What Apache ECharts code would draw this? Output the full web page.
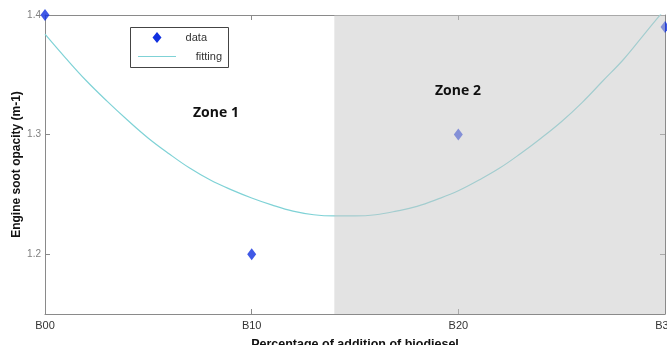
<!DOCTYPE html>
<html>
<head>
<meta charset="utf-8">
<script src="https://cdn.jsdelivr.net/npm/echarts@6/dist/echarts.min.js"></script>
<style>
html,body{margin:0;padding:0;background:#fff;}
#chart{width:667px;height:345px;}
</style>
</head>
<body>
<div id="chart"></div>
<script>
// ---- data ----
const xTickValues = [0, 10, 20, 30];
const xTickLabels = ['B00', 'B10', 'B20', 'B30'];
const yTickValues = [1.2, 1.3, 1.4];
const dataX = [0, 10, 20, 30];
const dataY = [1.40, 1.20, 1.30, 1.39];
const fitX = [0, 1, 2, 3, 4, 5, 6, 7, 8, 9, 10, 11, 12, 13, 14, 15, 16, 17, 18, 19, 20, 21, 22, 23, 24, 25, 26, 27, 28, 29, 30];
const fitY = [1.384, 1.364, 1.345, 1.328, 1.312, 1.297, 1.284, 1.272, 1.262, 1.254, 1.247, 1.241, 1.236, 1.233, 1.232, 1.232, 1.233, 1.236, 1.240, 1.246, 1.253, 1.262, 1.272, 1.284, 1.297, 1.311, 1.327, 1.345, 1.363, 1.384, 1.405];
const zone2Range = [14, 30];
const zoneLabels = ['Zone 1', 'Zone 2'];
const legendLabels = ['data', 'fitting'];

const chart = echarts.init(document.getElementById('chart'), null, {renderer: 'canvas'});
const axisGray = '#8a8a8a';
const dataColor = '#1030e0';
const fitColor = '#7fd2d6';
const xMin = 0, xMax = 30, yMin = 1.15, yMax = 1.4;

chart.setOption({
  animation: false,
  backgroundColor: '#ffffff',
  grid: {left: 45, right: 2, top: 15, bottom: 31, containLabel: false, outerBoundsMode: 'none'},
  xAxis: [{
    type: 'value', min: xMin, max: xMax, interval: 10,
    name: 'Percentage of addition of biodiesel', nameLocation: 'middle', nameGap: 24, nameMoveOverlap: false,
    nameTextStyle: {fontFamily: 'Liberation Sans, Arial', fontWeight: 'bold', fontSize: 12.5, color: '#111'},
    axisLine: {show: true, onZero: false, lineStyle: {color: axisGray}},
    axisTick: {show: true, inside: true, length: 5, lineStyle: {color: axisGray}},
    axisLabel: {fontFamily: 'Liberation Sans, Arial', fontSize: 11, color: '#333', margin: 6,
      formatter: v => xTickLabels[xTickValues.indexOf(v)] || ''},
    splitLine: {show: false}
  }, {
    type: 'value', min: xMin, max: xMax, interval: 10, position: 'top',
    axisLine: {show: true, onZero: false, lineStyle: {color: axisGray}},
    axisTick: {show: true, inside: true, length: 5, lineStyle: {color: axisGray}},
    axisLabel: {show: false}, splitLine: {show: false}
  }],
  yAxis: [{
    type: 'value', min: yMin, max: yMax,
    name: 'Engine soot opacity (m-1)', nameLocation: 'middle', nameGap: 22, nameRotate: 90, nameMoveOverlap: false,
    nameTextStyle: {fontFamily: 'Liberation Sans, Arial', fontWeight: 'bold', fontSize: 12, color: '#111'},
    axisLine: {show: true, onZero: false, lineStyle: {color: axisGray}},
    axisTick: {show: true, inside: true, length: 5, lineStyle: {color: axisGray}, customValues: yTickValues},
    axisLabel: {fontFamily: 'Liberation Sans, Arial', fontSize: 10, color: '#808080', margin: 4,
      customValues: yTickValues, formatter: v => v.toFixed(1)},
    splitLine: {show: false}
  }, {
    type: 'value', min: yMin, max: yMax, position: 'right',
    axisLine: {show: true, onZero: false, lineStyle: {color: axisGray}},
    axisTick: {show: true, inside: true, length: 5, lineStyle: {color: axisGray}, customValues: yTickValues},
    axisLabel: {show: false}, splitLine: {show: false}
  }],
  graphic: [
    {type: 'text', left: 193, top: 106, z: 100,
     style: {text: zoneLabels[0], font: 'bold 14px "Open Sans", sans-serif', fill: '#111'}},
    {type: 'text', left: 435, top: 84, z: 100,
     style: {text: zoneLabels[1], font: 'bold 14px "Open Sans", sans-serif', fill: '#111'}},
    {type: 'group', left: 130, top: 27, z: 100, children: [
      {type: 'rect', shape: {x: 0.5, y: 0.5, width: 98, height: 40},
       style: {fill: '#fff', stroke: '#444', lineWidth: 1}},
      {type: 'polygon', shape: {points: [[27, 5], [31.5, 10.5], [27, 16], [22.5, 10.5]]},
       style: {fill: dataColor}},
      {type: 'line', shape: {x1: 8, y1: 29.5, x2: 46, y2: 29.5},
       style: {stroke: fitColor, lineWidth: 1.2}},
      {type: 'text', x: 77, y: 10.5,
       style: {text: legendLabels[0], font: '11px "Liberation Sans", Arial', fill: '#333', align: 'right', verticalAlign: 'middle'}},
      {type: 'text', x: 92, y: 29.5,
       style: {text: legendLabels[1], font: '11px "Liberation Sans", Arial', fill: '#333', align: 'right', verticalAlign: 'middle'}}
    ]}
  ],
  series: [{
    name: 'fitting', type: 'line', smooth: 0.4, symbol: 'none', showSymbol: false, z: 2,
    data: fitX.map((x, i) => [x, fitY[i]]),
    lineStyle: {color: fitColor, width: 1.2},
    itemStyle: {color: fitColor},
    clip: true
  }, {
    name: 'data', type: 'scatter', symbol: 'diamond', symbolSize: [9, 12], z: 2,
    data: dataX.map((x, i) => [x, dataY[i]]),
    itemStyle: {color: dataColor},
    clip: false
  }, {
    name: 'zone2', type: 'line', data: [], z: 10, silent: true,
    markArea: {
      silent: true, z: 10,
      itemStyle: {color: 'rgba(200,200,200,0.5)'},
      data: [[{xAxis: zone2Range[0]}, {xAxis: zone2Range[1]}]]
    }
  }]
});
</script>
</body>
</html>
